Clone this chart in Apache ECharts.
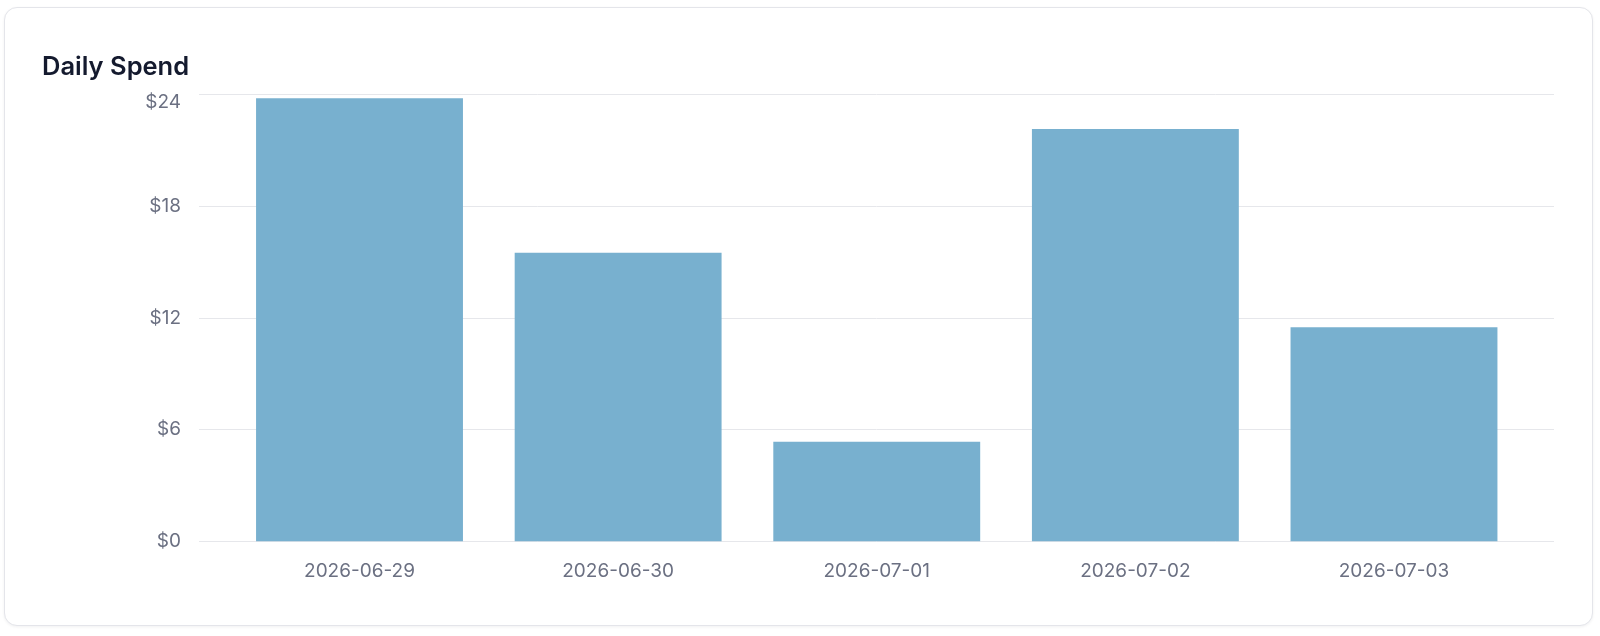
<!DOCTYPE html>
<html>
<head>
<meta charset="utf-8">
<script src="https://cdn.jsdelivr.net/npm/echarts@6/dist/echarts.min.js"></script>
<style>
  html, body { margin: 0; padding: 0; background: #ffffff; }
  body { width: 1600px; height: 636px; position: relative; overflow: hidden; }
  #card { position: absolute; left: 4px; top: 7px; width: 1587px; height: 617px;
          border: 1px solid #e4e5ea; border-radius: 13px; background: #ffffff;
          box-shadow: 0 1px 3px rgba(16,24,40,0.06); }
  #chart { position: absolute; left: 0; top: 0; width: 1600px; height: 636px; }
</style>
</head>
<body>
<div id="card"></div>
<div id="chart"></div>
<script>
const titleText = 'Daily Spend';
const categories = ['2026-06-29', '2026-06-30', '2026-07-01', '2026-07-02', '2026-07-03'];
const spendValues = [23.8, 15.5, 5.35, 22.15, 11.5];
const yMin = 0;
const yMax = 24;
const yStep = 6;

const chart = echarts.init(document.getElementById('chart'), null, { renderer: 'canvas' });
const FONT = 'Inter, "Noto Sans", sans-serif';
const plotTop = 94.6;
const plotBottom = 636 - 541.3;

chart.setOption({
  backgroundColor: 'transparent',
  animation: false,
  title: {
    text: titleText,
    left: 37,
    top: 49,
    textStyle: { fontFamily: FONT, fontSize: 25.5, fontWeight: 600, color: '#141a2e' }
  },
  grid: [
    { left: 199, right: 46, top: plotTop, bottom: plotBottom, containLabel: false },
    { left: 230.2, right: 76.7, top: plotTop, bottom: plotBottom, containLabel: false }
  ],
  xAxis: [
    { gridIndex: 0, type: 'category', data: categories, show: false },
    {
      gridIndex: 1, type: 'category', data: categories,
      axisLine: { show: false }, axisTick: { show: false },
      axisLabel: { margin: 20, fontFamily: FONT, fontSize: 19, color: '#6b7082' }
    }
  ],
  yAxis: [
    {
      gridIndex: 0, type: 'value', min: yMin, max: yMax, interval: yStep,
      axisLine: { show: false }, axisTick: { show: false },
      splitLine: { lineStyle: { color: '#e6e7eb', width: 1 } },
      axisLabel: {
        margin: 18, fontFamily: FONT, fontSize: 19, color: '#6b7082',
        formatter: function (v) { return v === yMax ? '{top|$' + v + '}' : '$' + v; },
        rich: { top: { fontFamily: FONT, fontSize: 19, color: '#6b7082', padding: [16, 0, 0, 0] } }
      }
    },
    {
      gridIndex: 1, type: 'value', min: yMin, max: yMax, interval: yStep,
      show: false, splitLine: { show: false }
    }
  ],
  series: [
    {
      type: 'bar',
      xAxisIndex: 1, yAxisIndex: 1,
      data: spendValues,
      barWidth: '80%',
      itemStyle: { color: '#78b0cf' }
    }
  ]
});
</script>
</body>
</html>
